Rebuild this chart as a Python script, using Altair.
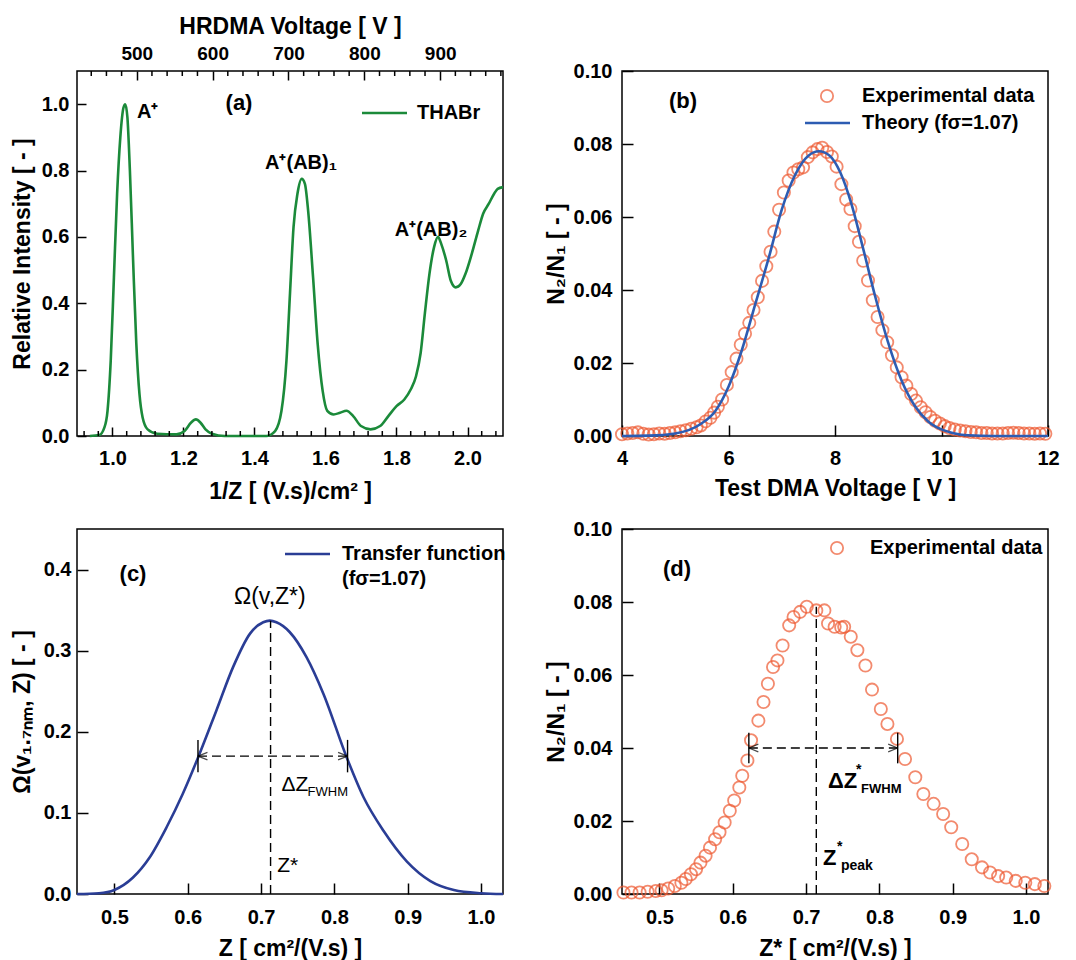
import altair as alt
import pandas as pd

FONT = "Liberation Sans"
GREEN = "#1b8a3a"
ORANGE = "#ee5a32"
BLUE_B = "#2d5cb2"
BLUE_C = "#2a3d95"
W, H = 426, 365
CIRCLE = 150

# ---------------- panel (a) data ----------------
a_x = [0.936, 0.963, 0.977, 0.986, 0.995, 1.004, 1.013, 1.022, 1.031, 1.036, 1.042, 1.049,
       1.058, 1.067, 1.076, 1.085, 1.099, 1.126, 1.180, 1.203, 1.221, 1.235, 1.248, 1.262,
       1.280, 1.316, 1.433, 1.458, 1.476, 1.490, 1.500, 1.510, 1.521, 1.533, 1.542, 1.551,
       1.565, 1.578, 1.592, 1.605, 1.623, 1.641, 1.659, 1.678, 1.700, 1.727, 1.754, 1.777,
       1.800, 1.822, 1.840, 1.855, 1.868, 1.880, 1.893, 1.906, 1.917, 1.926, 1.940, 1.953,
       1.967, 1.981, 1.994, 2.012, 2.030, 2.044, 2.060, 2.075, 2.085, 2.100]
a_y = [0.000, 0.003, 0.025, 0.076, 0.227, 0.478, 0.730, 0.900, 0.990, 1.000, 0.960, 0.800,
       0.530, 0.280, 0.126, 0.055, 0.020, 0.007, 0.005, 0.015, 0.040, 0.050, 0.040, 0.020,
       0.007, 0.000, 0.000, 0.015, 0.076, 0.227, 0.430, 0.630, 0.730, 0.775, 0.760, 0.680,
       0.478, 0.277, 0.136, 0.076, 0.065, 0.070, 0.076, 0.060, 0.030, 0.020, 0.030, 0.060,
       0.090, 0.110, 0.140, 0.180, 0.250, 0.370, 0.490, 0.570, 0.600, 0.579, 0.529, 0.468,
       0.448, 0.458, 0.488, 0.549, 0.619, 0.670, 0.700, 0.730, 0.745, 0.750]
a_xdom = [0.9, 2.1]
a_ydom = [0.0, 1.1]
a_xticks = [1.0, 1.2, 1.4, 1.6, 1.8, 2.0]
a_xminor = [0.92, 0.96, 1.04, 1.08, 1.12, 1.16, 1.24, 1.28, 1.32, 1.36, 1.44, 1.48, 1.52, 1.56,
            1.64, 1.68, 1.72, 1.76, 1.84, 1.88, 1.92, 1.96, 2.04, 2.08]
a_yticks = [0.0, 0.2, 0.4, 0.6, 0.8, 1.0]
a_topdom = [421.2, 982.8]
a_topticks = [500, 600, 700, 800, 900]
a_topminor = [440, 460, 480, 520, 540, 560, 580, 620, 640, 660, 680, 720, 740, 760, 780,
              820, 840, 860, 880, 920, 940, 960, 980]

# ---------------- panel (b) data ----------------
b_v = [4.00, 4.10, 4.20, 4.30, 4.40, 4.50, 4.60, 4.70, 4.80, 4.90, 5.00, 5.10, 5.20, 5.30,
       5.40, 5.48, 5.57, 5.66, 5.73, 5.80, 5.88, 5.97, 6.06, 6.15, 6.23, 6.31, 6.39, 6.47,
       6.55, 6.63, 6.71, 6.79, 6.86, 6.95, 7.04, 7.13, 7.22, 7.31, 7.40, 7.49, 7.58, 7.67,
       7.76, 7.85, 7.94, 8.03, 8.12, 8.21, 8.29, 8.37, 8.45, 8.53, 8.62, 8.71, 8.80, 8.89,
       8.98, 9.07, 9.16, 9.25, 9.34, 9.43, 9.52, 9.61, 9.70, 9.79, 9.88, 9.97, 10.06, 10.15,
       10.25, 10.35, 10.45, 10.55, 10.65, 10.75, 10.85, 10.95, 11.05, 11.15, 11.25, 11.35,
       11.45, 11.55, 11.65, 11.75, 11.85, 11.95]
b_n = [0.0005, 0.0007, 0.0008, 0.0010, 0.0006, 0.0004, 0.0005, 0.0007, 0.0006, 0.0008,
       0.0010, 0.0013, 0.0016, 0.0020, 0.0024, 0.0029, 0.0040, 0.0050, 0.0064, 0.0080,
       0.0100, 0.0140, 0.0175, 0.0212, 0.0250, 0.0280, 0.0310, 0.0345, 0.0380, 0.0425,
       0.0465, 0.0505, 0.0560, 0.0620, 0.0667, 0.0700, 0.0722, 0.0731, 0.0736, 0.0764,
       0.0777, 0.0786, 0.0790, 0.0778, 0.0766, 0.0738, 0.0690, 0.0648, 0.0622, 0.0575,
       0.0532, 0.0480, 0.0426, 0.0372, 0.0326, 0.0290, 0.0257, 0.0221, 0.0188, 0.0161,
       0.0138, 0.0115, 0.0097, 0.0079, 0.0065, 0.0052, 0.0042, 0.0034, 0.0027, 0.0022,
       0.0018, 0.0015, 0.0013, 0.0011, 0.0010, 0.0008, 0.0008, 0.0007, 0.0007, 0.0007,
       0.0008, 0.0009, 0.0008, 0.0007, 0.0007, 0.0006, 0.0007, 0.0006]
b_theory_v = [4.0, 4.5, 5.0, 5.25, 5.5, 5.75, 6.0, 6.25, 6.5, 6.75, 7.0, 7.25, 7.5, 7.7,
              7.9, 8.1, 8.3, 8.5, 8.75, 9.0, 9.25, 9.5, 9.75, 10.0, 10.25, 10.5, 11.0, 12.0]
b_theory_n = [0.0, 0.0001, 0.0007, 0.0016, 0.0035, 0.0068, 0.0135, 0.0235, 0.0360, 0.0485,
              0.0620, 0.0715, 0.0768, 0.0780, 0.0768, 0.0722, 0.0640, 0.0530, 0.0385, 0.0255,
              0.0152, 0.0082, 0.0040, 0.0018, 0.0007, 0.0002, 0.0, 0.0]
b_xdom = [4, 12]
b_ydom = [0.0, 0.1]
b_xticks = [4, 6, 8, 10, 12]
b_yticks = [0.0, 0.02, 0.04, 0.06, 0.08, 0.10]

# ---------------- panel (c) data ----------------
c_z = [0.449, 0.479, 0.500, 0.525, 0.548, 0.571, 0.593, 0.614, 0.639, 0.662, 0.685, 0.703,
       0.712, 0.721, 0.739, 0.762, 0.785, 0.817, 0.840, 0.867, 0.899, 0.931, 0.963, 1.000, 1.030]
c_w = [0.000, 0.001, 0.005, 0.020, 0.045, 0.082, 0.123, 0.168, 0.226, 0.280, 0.321, 0.335,
       0.337, 0.335, 0.323, 0.292, 0.247, 0.168, 0.119, 0.078, 0.040, 0.016, 0.005, 0.001, 0.000]
c_xdom = [0.449, 1.03]
c_ydom = [0.0, 0.45]
c_xticks = [0.5, 0.6, 0.7, 0.8, 0.9, 1.0]
c_yticks = [0.0, 0.1, 0.2, 0.3, 0.4]
c_fwhm = [0.614, 0.818]
c_half = 0.17
c_peak = [0.713, 0.337]

# ---------------- panel (d) data ----------------
d_z = [0.451, 0.462, 0.473, 0.484, 0.495, 0.503, 0.512, 0.521, 0.530, 0.536, 0.543, 0.550,
       0.556, 0.563, 0.569, 0.576, 0.582, 0.589, 0.596, 0.602, 0.609, 0.613, 0.620, 0.625,
       0.635, 0.642, 0.648, 0.655, 0.661, 0.668, 0.677, 0.683, 0.692, 0.701, 0.714, 0.725,
       0.730, 0.739, 0.748, 0.752, 0.761, 0.770, 0.781, 0.790, 0.802, 0.811, 0.824, 0.835,
       0.849, 0.860, 0.874, 0.887, 0.898, 0.913, 0.926, 0.940, 0.951, 0.962, 0.973, 0.986,
       0.999, 1.012, 1.025]
d_n = [0.0004, 0.0004, 0.0004, 0.0006, 0.0008, 0.0010, 0.0015, 0.0022, 0.0031, 0.0041,
       0.0054, 0.0068, 0.0086, 0.0105, 0.0127, 0.0150, 0.0169, 0.0196, 0.0228, 0.0256,
       0.0292, 0.0324, 0.0366, 0.0421, 0.0475, 0.0526, 0.0576, 0.0622, 0.0640, 0.0681,
       0.0736, 0.0759, 0.0773, 0.0787, 0.0777, 0.0777, 0.0741, 0.0732, 0.0730, 0.0732,
       0.0705, 0.0668, 0.0626, 0.0560, 0.0507, 0.0466, 0.0425, 0.0370, 0.0320, 0.0274,
       0.0247, 0.0219, 0.0183, 0.0137, 0.0095, 0.0073, 0.0059, 0.0049, 0.0045, 0.0036,
       0.0031, 0.0027, 0.0022]
d_xdom = [0.449, 1.03]
d_ydom = [0.0, 0.1]
d_xticks = [0.5, 0.6, 0.7, 0.8, 0.9, 1.0]
d_yticks = [0.0, 0.02, 0.04, 0.06, 0.08, 0.10]
d_fwhm = [0.622, 0.825]
d_half = 0.040
d_peak = [0.714, 0.0787]


def ax(orient, values, fmt, title, tick=11, lpad=8, tpad=8, lsize=20, tsize=23):
    return alt.Axis(orient=orient, values=values, format=fmt, title=title, grid=False,
                    domain=False, tickSize=tick, offset=-tick, tickColor="black",
                    tickWidth=1.5, labelPadding=lpad, titlePadding=tpad, labelFont=FONT,
                    labelFontSize=lsize, labelFontWeight="bold", labelColor="black",
                    labelFlush=False, labelOverlap=False, titleFont=FONT,
                    titleFontSize=tsize, titleFontWeight="bold", titleColor="black")


def sc(dom):
    return alt.Scale(domain=dom, nice=False, zero=False)


def one():
    return pd.DataFrame({"k": [0]})


def ptext(t, x, y, size=20, align="left", weight="bold"):
    return alt.Chart(pd.DataFrame({"t": [t]})).mark_text(
        font=FONT, fontSize=size, fontWeight=weight, align=align, baseline="middle",
        color="black").encode(x=alt.value(x), y=alt.value(y), text="t:N")


def prule(x1, x2, y, color, width=2.6):
    return alt.Chart(one()).mark_rule(color=color, strokeWidth=width).encode(
        x=alt.value(x1), x2=alt.value(x2), y=alt.value(y))


def pcircle(x, y):
    return alt.Chart(one()).mark_point(shape="circle", filled=False, size=CIRCLE,
                                       color=ORANGE, strokeWidth=1.8).encode(
        x=alt.value(x), y=alt.value(y))


class Panel:
    """Holds one panel's shared x / y encodings (identical in every layer)."""

    def __init__(self, xdom, xaxis, ydom, yaxis):
        self.xdom, self.xaxis, self.ydom, self.yaxis = xdom, xaxis, ydom, yaxis

    def X(self, f="x"):
        return alt.X(f + ":Q", scale=sc(self.xdom), axis=self.xaxis)

    def Y(self, f="y"):
        return alt.Y(f + ":Q", scale=sc(self.ydom), axis=self.yaxis)

    def text(self, t, xv, yv, size=20, weight="bold", dx=0, dy=0, align="left"):
        df = pd.DataFrame({"x": [xv], "y": [yv], "t": [t]})
        return alt.Chart(df).mark_text(
            font=FONT, fontSize=size, fontWeight=weight, align=align, baseline="middle",
            color="black", dx=dx, dy=dy).encode(x=self.X(), y=self.Y(), text="t:N")

    def fwhm(self, fw, half, peak, tick_half):
        dash = [9, 5]
        hl = alt.Chart(pd.DataFrame({"x": [fw[0]], "x2": [fw[1]], "y": [half]})).mark_rule(
            color="black", strokeWidth=1.4, strokeDash=dash).encode(
            x=self.X(), x2="x2:Q", y=self.Y())
        vl = alt.Chart(pd.DataFrame({"x": [peak[0]], "y": [0.0], "y2": [peak[1]]})).mark_rule(
            color="black", strokeWidth=1.4, strokeDash=dash).encode(
            x=self.X(), y=self.Y(), y2="y2:Q")
        ends = alt.Chart(pd.DataFrame({"x": fw, "y": [half - tick_half] * 2,
                                       "y2": [half + tick_half] * 2})).mark_rule(
            color="black", strokeWidth=1.4).encode(x=self.X(), y=self.Y(), y2="y2:Q")
        arl = alt.Chart(pd.DataFrame({"x": [fw[0]], "y": [half]})).mark_point(
            shape="M0,0L2,-0.8M0,0L2,0.8", filled=False, size=90, color="black",
            strokeWidth=1.3).encode(x=self.X(), y=self.Y())
        arr = alt.Chart(pd.DataFrame({"x": [fw[1]], "y": [half]})).mark_point(
            shape="M0,0L-2,-0.8M0,0L-2,0.8", filled=False, size=90, color="black",
            strokeWidth=1.3).encode(x=self.X(), y=self.Y())
        return [hl, vl, ends, arl, arr]


# ---------------- panel (a) ----------------
pa = Panel(a_xdom, ax("bottom", a_xticks, ".1f", "1/Z [ (V.s)/cm² ]", tick=9, lpad=12, tpad=12),
           a_ydom, ax("left", a_yticks, ".1f", "Relative Intensity [ - ]", tick=9, lpad=8, tpad=7))
line_a = alt.Chart(pd.DataFrame({"x": a_x, "y": a_y})).mark_line(
    color=GREEN, strokeWidth=2.6, interpolate="monotone").encode(x=pa.X(), y=pa.Y())
minor_a = alt.Chart(pd.DataFrame({"x": a_xminor})).mark_rule(color="black", strokeWidth=1.5).encode(
    x=pa.X(), y=alt.value(H), y2=alt.value(H - 5))
inner_a = alt.layer(
    line_a, minor_a,
    ptext("(a)", 162, 32, size=22, align="center"),
    ptext("A⁺", 60, 41),
    ptext("A⁺(AB)₁", 224, 92, align="center"),
    ptext("A⁺(AB)₂", 354, 159, align="center"),
    prule(285, 330, 42, GREEN),
    ptext("THABr", 340, 42),
)
top_a = alt.Chart(pd.DataFrame({"v": a_topminor})).mark_rule(color="black", strokeWidth=1.5).encode(
    x=alt.X("v:Q", scale=sc(a_topdom),
            axis=ax("top", a_topticks, "d", "HRDMA Voltage [ V ]", tick=9, lpad=8, tpad=6, lsize=19)),
    y=alt.value(0), y2=alt.value(5))
panel_a = alt.layer(inner_a, top_a).resolve_scale(x="independent").properties(width=W, height=H)

# ---------------- panel (b) ----------------
pb = Panel(b_xdom, ax("bottom", b_xticks, "d", "Test DMA Voltage [ V ]", lpad=12, tpad=9),
           b_ydom, ax("left", b_yticks, ".2f", "N₂/N₁ [ - ]", lpad=10, tpad=5))
pts_b = alt.Chart(pd.DataFrame({"x": b_v, "y": b_n})).mark_point(
    shape="circle", filled=False, size=CIRCLE, color=ORANGE, strokeWidth=1.8).encode(
    x=pb.X(), y=pb.Y())
line_b = alt.Chart(pd.DataFrame({"x": b_theory_v, "y": b_theory_n})).mark_line(
    color=BLUE_B, strokeWidth=2.6, interpolate="monotone").encode(x=pb.X(), y=pb.Y())
panel_b = alt.layer(
    pts_b, line_b,
    ptext("(b)", 61, 30, size=22, align="center"),
    pcircle(205, 25),
    ptext("Experimental data", 240, 25),
    prule(183, 228, 52, BLUE_B),
    ptext("Theory (fσ=1.07)", 240, 52),
).properties(width=W, height=H)

# ---------------- panel (c) ----------------
pc = Panel(c_xdom, ax("bottom", c_xticks, ".1f", "Z [ cm²/(V.s) ]", lpad=13, tpad=10),
           c_ydom, ax("left", c_yticks, ".1f", "Ω(v₁.₇ₙₘ, Z) [ - ]", lpad=6, tpad=9))
line_c = alt.Chart(pd.DataFrame({"x": c_z, "y": c_w})).mark_line(
    color=BLUE_C, strokeWidth=2.6, interpolate="monotone").encode(x=pc.X(), y=pc.Y())
panel_c = alt.layer(
    line_c,
    *pc.fwhm(c_fwhm, c_half, c_peak, 0.02),
    ptext("(c)", 56, 45, size=22, align="center"),
    prule(208, 253, 25, BLUE_C),
    ptext("Transfer function", 265, 25),
    ptext("(fσ=1.07)", 265, 50),
    pc.text("Ω(v,Z*)", 0.712, 0.366, size=23, weight="normal", align="center"),
    pc.text("ΔZ", 0.728, 0.135, size=21, weight="normal"),
    pc.text("FWHM", 0.728, 0.135, size=13, weight="normal", dx=26, dy=7),
    pc.text("Z*", 0.722, 0.034, size=21, weight="normal"),
).properties(width=W, height=H)

# ---------------- panel (d) ----------------
pdd = Panel(d_xdom, ax("bottom", d_xticks, ".1f", "Z* [ cm²/(V.s) ]", lpad=13, tpad=10),
            d_ydom, ax("left", d_yticks, ".2f", "N₂/N₁ [ - ]", lpad=10, tpad=5))
pts_d = alt.Chart(pd.DataFrame({"x": d_z, "y": d_n})).mark_point(
    shape="circle", filled=False, size=CIRCLE, color=ORANGE, strokeWidth=1.8).encode(
    x=pdd.X(), y=pdd.Y())
panel_d = alt.layer(
    pts_d,
    *pdd.fwhm(d_fwhm, d_half, d_peak, 0.0042),
    ptext("(d)", 55, 40, size=22, align="center"),
    pcircle(215, 19),
    ptext("Experimental data", 248, 19),
    pdd.text("ΔZ", 0.730, 0.031, size=22),
    pdd.text("*", 0.730, 0.031, size=14, dx=28, dy=-11),
    pdd.text("FWHM", 0.730, 0.031, size=13, dx=33, dy=8),
    pdd.text("Z", 0.723, 0.010, size=22),
    pdd.text("*", 0.723, 0.010, size=14, dx=14, dy=-11),
    pdd.text("peak", 0.723, 0.010, size=14, dx=18, dy=8),
).properties(width=W, height=H)

chart = alt.concat(
    panel_a, panel_b, panel_c, panel_d, columns=2,
    spacing={"row": 93, "column": 119}, bounds="flush",
).properties(
    padding={"left": 10, "top": 14, "right": 5, "bottom": 0},
).configure(background="white").configure_view(stroke="black", strokeWidth=1.5)

chart.save("out.html", embed_options={"renderer": "svg", "actions": False})
